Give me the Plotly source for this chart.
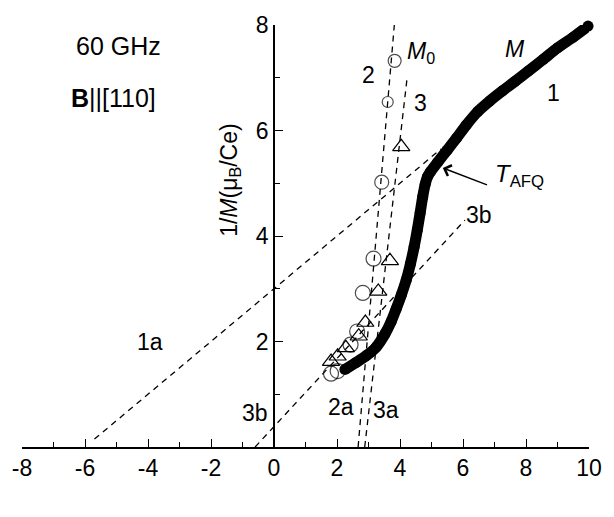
import plotly.graph_objects as go

# Thick magnetization curve M (1/M vs T)
m_T = [2.25, 2.60, 2.95, 3.25, 3.52, 3.72, 3.88, 4.04, 4.20, 4.33, 4.45, 4.55, 4.64, 4.72, 4.80, 4.87, 4.97, 5.20, 5.50, 5.80, 6.10, 6.47, 6.85, 7.25, 7.65, 8.08, 8.55, 9.01, 9.50, 9.97]
m_inv = [1.47, 1.60, 1.74, 1.90, 2.14, 2.38, 2.62, 2.88, 3.17, 3.47, 3.80, 4.12, 4.44, 4.74, 4.98, 5.12, 5.22, 5.40, 5.63, 5.86, 6.10, 6.36, 6.56, 6.75, 6.93, 7.13, 7.35, 7.57, 7.77, 7.98]

# Open circles (M0, line 2)
c_T = [1.81, 2.02, 2.43, 2.64, 2.82, 3.16, 3.42, 3.61, 3.83]
c_inv = [1.39, 1.44, 1.94, 2.19, 2.92, 3.57, 5.02, 6.54, 7.32]
c_size = [15, 15, 15, 15, 15, 15, 14, 11, 13]

# Open triangles (line 3)
t_T = [1.81, 2.02, 2.28, 2.69, 2.90, 3.31, 3.68, 4.04]
t_inv = [1.62, 1.72, 1.88, 2.10, 2.36, 2.95, 3.53, 5.69]

# Dashed fit lines (end points)
line_1a_T = [-5.7, 5.3]
line_1a_v = [0.15, 5.65]
line_2_T = [2.67, 3.82]
line_2_v = [0.0, 8.0]
line_3_T = [2.88, 4.23]
line_3_v = [0.0, 7.02]
line_3b_T = [-0.6, 6.06]
line_3b_v = [0.0, 4.30]

x_ticks = [-8, -6, -4, -2, 0, 2, 4, 6, 8, 10]
x_ticktext = ["-8", "-6", "-4", "-2", "0", "2", "4", "6", "8", "10"]
y_ticks = [2, 4, 6, 8]

FONT = "Liberation Sans, Arial, sans-serif"
dash = "6px,5px"

fig = go.Figure()
for xs, ys in [(line_1a_T, line_1a_v), (line_2_T, line_2_v), (line_3_T, line_3_v), (line_3b_T, line_3b_v)]:
    fig.add_trace(go.Scatter(x=xs, y=ys, mode="lines",
                             line=dict(color="black", width=1.3, dash=dash),
                             showlegend=False, hoverinfo="skip", cliponaxis=False))

fig.add_trace(go.Scatter(x=m_T, y=m_inv, mode="lines+markers",
                         line=dict(color="black", width=11, shape="spline", smoothing=0.7),
                         marker=dict(color="black", size=11),
                         showlegend=False, cliponaxis=False))
fig.add_trace(go.Scatter(x=t_T, y=t_inv, mode="markers",
                         marker=dict(symbol="triangle-up-open", size=15, color="black", line=dict(width=1.2)),
                         showlegend=False))
fig.add_trace(go.Scatter(x=c_T, y=c_inv, mode="markers",
                         marker=dict(symbol="circle-open", size=c_size, color="black", line=dict(width=1.2)),
                         showlegend=False))

def lab(x, y, text, size=23, **kw):
    fig.add_annotation(x=x, y=y, xref="x", yref="y", text=text, showarrow=False,
                       font=dict(family=FONT, size=size, color="black"), **kw)

lab(-4.93, 7.60, "60 GHz", size=25)
lab(-5.08, 6.62, "<b>B</b>||[110]", size=25)
lab(2.99, 7.05, "2")
lab(4.68, 7.48, "<i>M</i><sub>0</sub>")
lab(4.66, 6.52, "3")
lab(7.66, 7.55, "<i>M</i>")
lab(8.88, 6.72, "1")
lab(6.96, 5.14, "<i>T</i><sub>AFQ</sub>", xanchor="left", size=24)
lab(6.52, 4.39, "3b")
lab(-3.93, 2.0, "1a")
lab(-0.61, 0.645, "3b")
lab(2.12, 0.75, "2a")
lab(3.57, 0.71, "3a")
lab(-1.39, 5.05, "1/<i>M</i>(μ<sub>B</sub>/Ce)", textangle=-90)
lab(1.03, -1.05, "<i>T</i> (K)")

# T_AFQ arrow
fig.add_annotation(x=5.36, y=5.29, ax=6.81, ay=4.96, xref="x", yref="y", axref="x", ayref="y",
                   text="", showarrow=True, arrowhead=4, arrowsize=1.6, arrowwidth=1.4, arrowcolor="black")

fig.update_layout(
    width=614, height=517,
    margin=dict(l=19, r=15, t=19, b=70),
    paper_bgcolor="white", plot_bgcolor="white",
    font=dict(family=FONT, size=23, color="black"),
    xaxis=dict(range=[-8, 10], tickmode="array", tickvals=x_ticks, ticktext=x_ticktext,
               ticks="inside", ticklen=8, tickwidth=1.4, tickcolor="black",
               minor=dict(dtick=1, tick0=0, ticks="inside", ticklen=5, tickwidth=1.4, tickcolor="black"),
               showline=True, linecolor="black", linewidth=1.5, showgrid=False, zeroline=False,
               tickfont=dict(size=23), anchor="y"),
    yaxis=dict(range=[0, 8], tickmode="array", tickvals=y_ticks,
               ticks="inside", ticklen=8, tickwidth=1.4, tickcolor="black",
               minor=dict(tickvals=[1, 3, 5, 7], ticks="inside", ticklen=5, tickwidth=1.4, tickcolor="black"),
               showline=True, linecolor="black", linewidth=1.5, showgrid=False, zeroline=False,
               tickfont=dict(size=23), anchor="free", position=8/18),
)

fig.write_html("out.html")
